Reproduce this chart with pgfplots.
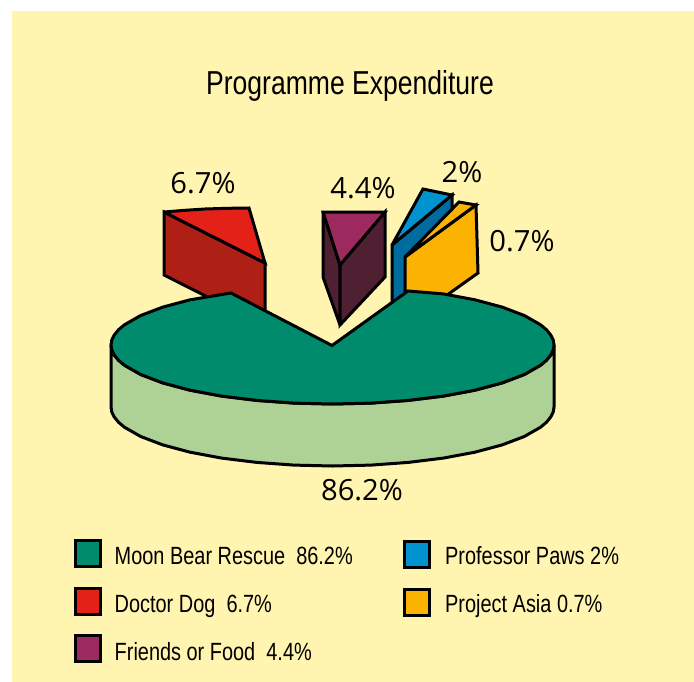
\documentclass[border=0pt]{standalone}
\usepackage{pgfplots}
\pgfplotsset{compat=1.18}
\usepackage{fontspec}
\setmainfont{Liberation Sans}
\newfontfamily\pct{Open Sans}
\definecolor{bg}{HTML}{FFF4B0}
\definecolor{grn}{HTML}{008C6C}
\definecolor{lgrn}{HTML}{AED196}
\definecolor{rd}{HTML}{E42119}
\definecolor{drd}{HTML}{AE1F15}
\definecolor{pur}{HTML}{9D2A5E}
\definecolor{dpur}{HTML}{4F2032}
\definecolor{blu}{HTML}{0093D0}
\definecolor{dblu}{HTML}{006B9D}
\definecolor{org}{HTML}{FBB200}
\newcommand{\lgd}[1]{\scalebox{.80}[1]{\fontsize{25}{25}\selectfont #1}}
\newcommand{\pc}[1]{\fontsize{29.3}{29.3}\pct #1}
\begin{document}
\begin{tikzpicture}
\begin{axis}[
  width=694bp,height=682bp,scale only axis,
  xmin=0,xmax=694,ymin=0,ymax=682,y dir=reverse,
  axis lines=none,clip=true,
  every axis plot/.style={line width=3bp,line join=miter,miter limit=3,draw=black},
]
% panel
\addplot[fill=white,draw=none] coordinates {(0,0)(694,0)(694,682)(0,682)} --cycle;
\addplot[fill=bg,draw=none] coordinates {(12,11)(694,11)(694,682)(12,682)} --cycle;
% doctor dog
\addplot[fill=drd] coordinates {(164,212)(265,263)(265,326)(164,275)} --cycle;
\addplot[fill=rd] coordinates {(164,212)(185,210.3)(205,209)(228,208.3)(249,208)(265,263)} --cycle;
% friends or food
\addplot[fill=dpur] coordinates {(323,212)(340,265)(340,325)(323,277)} --cycle;
\addplot[fill=dpur] coordinates {(340,265)(385,212)(385,277)(340,325)} --cycle;
\addplot[fill=pur] coordinates {(323,212)(385,212)(340,265)} --cycle;
% professor paws
\addplot[fill=dblu] coordinates {(392,245)(452,195)(452,260)(392,312)} --cycle;
\addplot[fill=blu] coordinates {(423,189)(452,195)(392,245)} --cycle;
% project asia
\addplot[fill=org] coordinates {(405,257)(476,205)(478,273)(405,325)} --cycle;
\addplot[fill=org] coordinates {(405,257)(459,202)(476,205)} --cycle;
% moon bear: wall
\addplot[fill=lgrn] coordinates {(554,345)(553.2,350.1)(550.6,355.2)(546.4,360.3)(540.6,365.2)(524.3,374.5)(502.2,382.9)(474.9,390.2)(443.3,396.1)(408.3,400.4)(371.0,403.1)(332.5,404)(294.0,403.1)(256.7,400.4)(221.7,396.1)(190.1,390.2)(162.8,382.9)(140.7,374.5)(124.4,365.2)(118.6,360.3)(114.4,355.2)(111.8,350.1)(111,345)
 (111,407)(111.8,412.1)(114.4,417.2)(118.6,422.3)(124.4,427.2)(140.7,436.5)(162.8,444.9)(190.1,452.2)(221.7,458.1)(256.7,462.4)(294.0,465.1)(332.5,466)(371.0,465.1)(408.3,462.4)(443.3,458.1)(474.9,452.2)(502.2,444.9)(524.3,436.5)(540.6,427.2)(546.4,422.3)(550.6,417.2)(553.2,412.1)(554,407)} --cycle;
% moon bear: top
\addplot[fill=grn] coordinates {(554,345)(553.2,350.1)(550.6,355.2)(546.4,360.3)(540.6,365.2)(524.3,374.5)(502.2,382.9)(474.9,390.2)(443.3,396.1)(408.3,400.4)(371.0,403.1)(332.5,404)(294.0,403.1)(256.7,400.4)(221.7,396.1)(190.1,390.2)(162.8,382.9)(140.7,374.5)(124.4,365.2)(118.6,360.3)(114.4,355.2)(111.8,350.1)(111,345)
 (111.8,339.9)(114.4,334.8)(118.6,329.7)(124.4,324.8)(140.7,315.5)(162.8,307.1)(190.1,299.8)(231,293)(332,345.5)(408,291)(443.3,293.9)(474.9,299.8)(502.2,307.1)(524.3,315.5)(540.6,324.8)(546.4,329.7)(550.6,334.8)(553.2,339.9)} --cycle;
% legend swatches
\addplot[fill=grn] coordinates {(75.5,540)(100,540)(100,566)(75.5,566)} --cycle;
\addplot[fill=rd] coordinates {(75.5,588)(100,588)(100,614)(75.5,614)} --cycle;
\addplot[fill=pur] coordinates {(75.5,635)(100,635)(100,661)(75.5,661)} --cycle;
\addplot[fill=blu] coordinates {(404.5,541)(429,541)(429,567)(404.5,567)} --cycle;
\addplot[fill=org] coordinates {(404.5,589)(429,589)(429,615)(404.5,615)} --cycle;
% text
\node[anchor=base,inner sep=0pt] at (axis cs:350,94) {\scalebox{.80}[1]{\fontsize{33.3}{33.3}\selectfont Programme Expenditure}};
\node[anchor=center] at (axis cs:203,183) {\pc{6.7\%}};
\node[anchor=center] at (axis cs:363,188) {\pc{4.4\%}};
\node[anchor=center] at (axis cs:462,172) {\pc{2\%}};
\node[anchor=center] at (axis cs:522,241) {\pc{0.7\%}};
\node[anchor=center] at (axis cs:362,490) {\pc{86.2\%}};
\node[anchor=base west,inner sep=0pt] at (axis cs:114.5,564) {\lgd{Moon Bear Rescue\ \ 86.2\%}};
\node[anchor=base west,inner sep=0pt] at (axis cs:114.5,612) {\lgd{Doctor Dog\ \ 6.7\%}};
\node[anchor=base west,inner sep=0pt] at (axis cs:114.5,660) {\lgd{Friends or Food\ \ 4.4\%}};
\node[anchor=base west,inner sep=0pt] at (axis cs:445,564) {\lgd{Professor Paws 2\%}};
\node[anchor=base west,inner sep=0pt] at (axis cs:445,612) {\lgd{Project Asia 0.7\%}};
\end{axis}
\end{tikzpicture}
\end{document}
